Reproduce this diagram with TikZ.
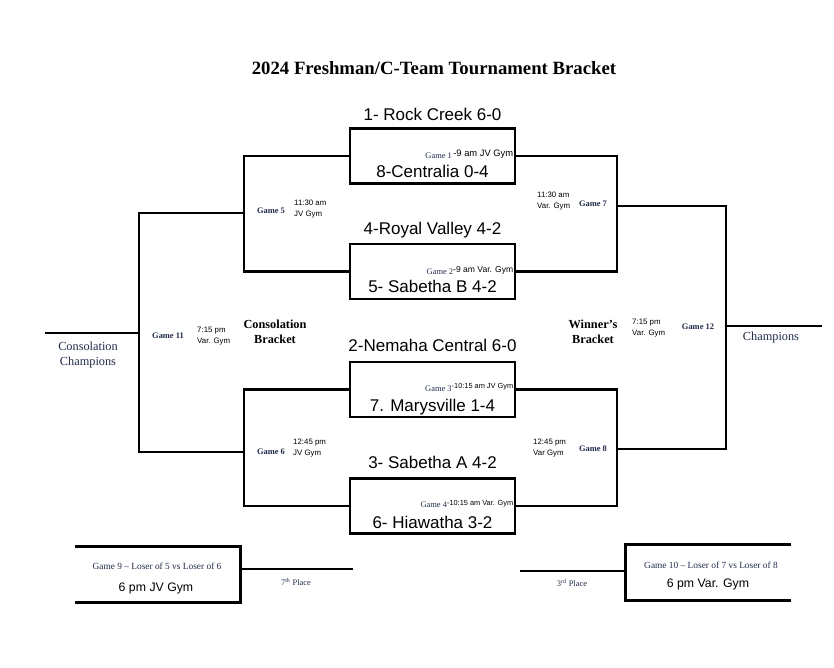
\documentclass[tikz,border=0pt]{standalone}
\usepackage{fontspec}
\setmainfont{Liberation Serif}
\setsansfont{Liberation Sans}
\usepackage{xcolor}
\usepackage{tikz}
\usetikzlibrary{positioning, calc}
\definecolor{gamenavy}{HTML}{1F2A48}
\tikzstyle{gamebox} = [rectangle, draw=black, line width=2.5pt, minimum width=4.95cm, minimum height=1.65cm, inner sep=0pt]
\tikzstyle{openbox} = [rectangle, minimum width=4.95cm, minimum height=1.65cm, inner sep=0pt]
\tikzstyle{team} = [anchor=base, inner sep=0pt, font=\fontsize{14.5}{16}\selectfont\sffamily]
\tikzstyle{gamelbl} = [inner sep=0pt, text=gamenavy, font=\fontsize{7.2}{8}\selectfont\bfseries]
\tikzstyle{boxlbl} = [anchor=east, inner sep=0pt, text=gamenavy, font=\fontsize{7.2}{8}\selectfont]
\tikzstyle{timelbl} = [anchor=west, align=left, inner sep=0pt, font=\fontsize{6.7}{9.2}\selectfont\sffamily]
\tikzstyle{headlbl} = [align=center, inner sep=0pt, font=\fontsize{10.5}{13}\selectfont\bfseries]
\tikzstyle{champlbl} = [align=center, inner sep=0pt, text=gamenavy, font=\fontsize{10.5}{13}\selectfont]
\tikzstyle{placelbl} = [inner sep=0pt, text=gamenavy, font=\fontsize{7.2}{8}\selectfont]
\tikzstyle{bline} = [line width=2.5pt]

\begin{document}
\begin{tikzpicture}[x=0.03cm, y=-0.03cm]
  \useasboundingbox (0,0) rectangle (834,667);
  \node (title) [font=\fontsize{16}{19}\selectfont\bfseries] at (434,68) {2024 Freshman/C-Team Tournament Bracket};

  \node (g1) [gamebox] at (432.5,156) {};
  \node (g2) [gamebox] at (432.5,271.5) {};
  \node (g3) [gamebox] at (432.5,389.5) {};
  \node (g4) [gamebox] at (432.5,506) {};

  \node (r1) [team] at ([yshift=0.21cm]g1.north) {1- Rock Creek 6-0};
  \node (r8) [team] at ([yshift=0.21cm]g1.south) {8-Centralia 0-4};
  \node (r4) [team] at ([yshift=0.24cm]g2.north) {4-Royal Valley 4-2};
  \node (r5) [team] at ([yshift=0.24cm]g2.south) {5- Sabetha B 4-2};
  \node (r2) [team] at ([yshift=0.26cm]g3.north) {2-Nemaha Central 6-0};
  \node (r7) [team] at ([yshift=0.21cm]g3.south) {7. Marysville 1-4};
  \node (r3) [team] at ([yshift=0.27cm]g4.north) {3- Sabetha A 4-2};
  \node (r6) [team] at ([yshift=0.18cm]g4.south) {6- Hiawatha 3-2};

  \node (l1) [boxlbl] at ($(g1.east)+(-3,-2)$) {Game 1\,\raisebox{1.8pt}{\color{black}\sffamily\fontsize{8}{9}\selectfont -9 am JV Gym}};
  \node (l2) [boxlbl] at ($(g2.east)+(-3,-1)$) {Game 2\raisebox{1.8pt}{\color{black}\sffamily\fontsize{7.3}{9}\selectfont -9 am Var. Gym}};
  \node (l3) [boxlbl] at ($(g3.east)+(-3,-2)$) {Game 3\raisebox{1.8pt}{\color{black}\sffamily\fontsize{6.3}{8}\selectfont -10:15 am JV Gym}};
  \node (l4) [boxlbl] at ($(g4.east)+(-3,-2)$) {Game 4\raisebox{1.8pt}{\color{black}\sffamily\fontsize{6.3}{8}\selectfont -10:15 am Var. Gym}};

  \coordinate (w5) at (244,213);
  \coordinate (w6) at (244,452);
  \coordinate (w11) at (139,333);
  \coordinate (cc) at (45,333);
  \coordinate (w7) at (617,206);
  \coordinate (w8) at (617,449);
  \coordinate (w12) at (726,326);
  \coordinate (ch) at (822,326);

  \draw[bline] (g1.west) -| (w5) |- (g2.west);
  \draw[bline] (g3.west) -| (w6) |- (g4.west);
  \draw[bline] (w5) -| (w11) |- (w6);
  \draw[bline] (w11) -- (cc);
  \draw[bline] (g1.east) -| (w7) |- (g2.east);
  \draw[bline] (g3.east) -| (w8) |- (g4.east);
  \draw[bline] (w7) -| (w12) |- (w8);
  \draw[bline] (w12) -- (ch);

  \node (n5) [gamelbl] at (271,211) {Game 5};
  \node (t5) [timelbl] at (294,209) {11:30 am\\JV Gym};
  \node (n6) [gamelbl] at (271,452) {Game 6};
  \node (t6) [timelbl] at (293,448) {12:45 pm\\JV Gym};
  \node (n11) [gamelbl] at (168,336) {Game 11};
  \node (t11) [timelbl] at (197,336) {7:15 pm\\Var. Gym};
  \node (cb) [headlbl] at (275,332) {Consolation\\Bracket};
  \node (cch) [champlbl] at (88,355) {Consolation\\Champions};

  \node (n7) [gamelbl] at (593,204) {Game 7};
  \node (t7) [timelbl] at (537,201) {11:30 am\\Var. Gym};
  \node (n8) [gamelbl] at (593,449) {Game 8};
  \node (t8) [timelbl] at (533,448) {12:45 pm\\Var Gym};
  \node (wb) [headlbl] at (593,332) {Winner's\\Bracket};
  \node (t12) [timelbl] at (632,328) {7:15 pm\\Var. Gym};
  \node (n12) [gamelbl] at (698,327) {Game 12};
  \node (chl) [champlbl] at (771,338) {Champions};

  \node (g9) [openbox] at (157.5,574.5) {};
  \draw[bline] (g9.north west) -| (g9.south east) -- (g9.south west);
  \node (g9a) [placelbl, font=\fontsize{8}{9}\selectfont] at (157,566) {Game 9 -- Loser of 5 vs Loser of 6};
  \node (g9b) [inner sep=0pt, font=\fontsize{10.5}{12}\selectfont\sffamily] at (156,588) {6 pm JV Gym};
  \coordinate (p7) at (353,569);
  \draw[bline] (g9.east |- p7) -- (p7);
  \node (pl7) [placelbl] at (296,582) {7\textsuperscript{th} Place};

  \node (g10) [openbox] at (708.5,572.5) {};
  \draw[bline] (g10.north east) -| (g10.south west) -- (g10.south east);
  \node (g10a) [placelbl, font=\fontsize{8}{9}\selectfont] at (711,565) {Game 10 -- Loser of 7 vs Loser of 8};
  \node (g10b) [inner sep=0pt, font=\fontsize{10.5}{12}\selectfont\sffamily] at (708,584) {6 pm Var. Gym};
  \coordinate (p3) at (520,571);
  \draw[bline] (p3) -- (p3 -| g10.west);
  \node (pl3) [placelbl] at (572,583) {3\textsuperscript{rd} Place};
\end{tikzpicture}
\end{document}
